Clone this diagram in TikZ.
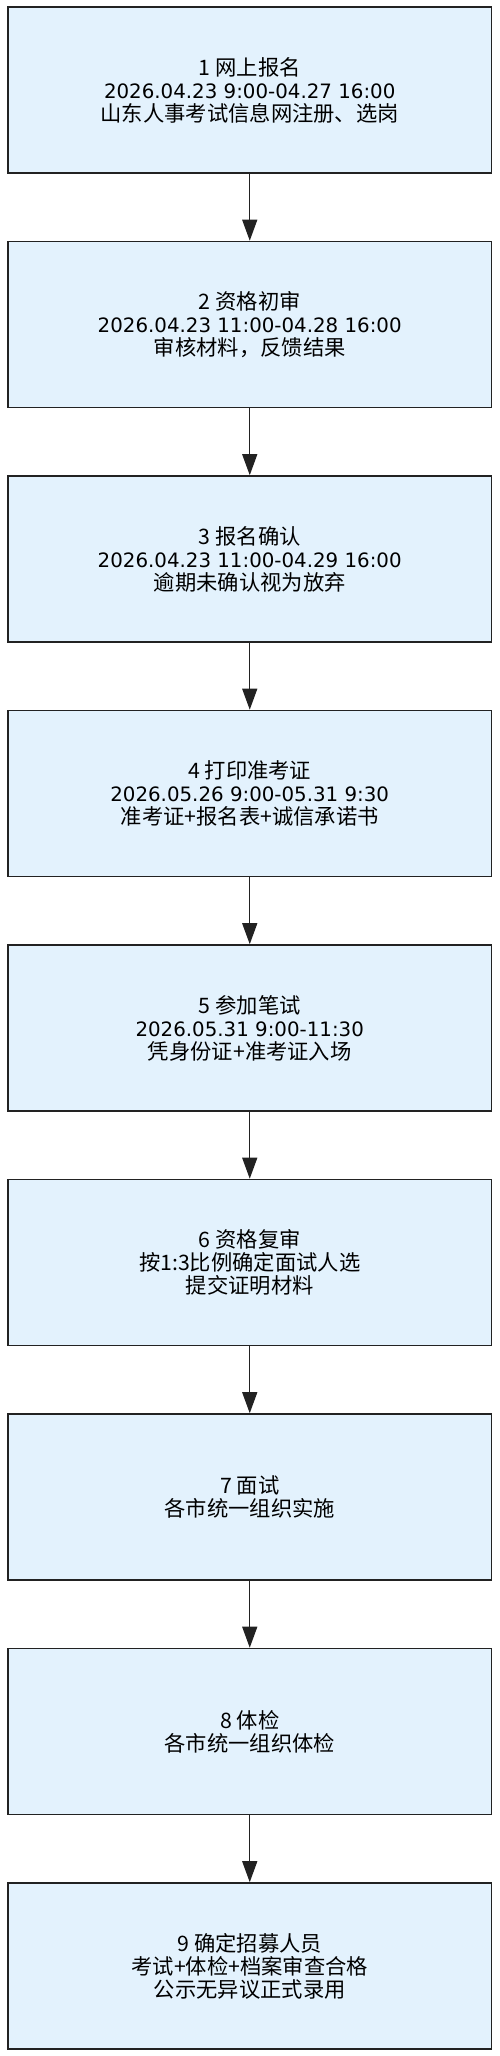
\documentclass[tikz,border=0pt]{standalone}
\usepackage{fontspec}
\setmainfont{Noto Sans CJK SC}
\newfontfamily\datefont[Scale=0.93]{DejaVu Sans}
\usetikzlibrary{arrows.meta}

\definecolor{stepfill}{HTML}{E3F2FD}
\definecolor{stepline}{HTML}{222222}

\newcommand{\when}[1]{{\datefont #1}}

\begin{document}
\begin{tikzpicture}[x=1pt, y=-1pt,
	stepbox/.style={draw=stepline, fill=stepfill, line width=1.6pt, minimum width=483.5pt, minimum height=166pt, inner sep=0pt, align=center, font=\fontsize{21.3pt}{23pt}\selectfont},
	flow/.style={draw=stepline, line width=1.3pt, -{Triangle[length=21pt, width=15pt]}}]
	\useasboundingbox (0,0) rectangle (499,2056);

	\node[stepbox] (s1) at (249.75,90) {1 网上报名\\ \when{2026.04.23 9:00-04.27 16:00}\\ 山东人事考试信息网注册、选岗};

	\node[stepbox] (s2) at (249.75,324.5) {2 资格初审\\ \when{2026.04.23 11:00-04.28 16:00}\\ 审核材料，反馈结果};

	\node[stepbox] (s3) at (249.75,559) {3 报名确认\\ \when{2026.04.23 11:00-04.29 16:00}\\ 逾期未确认视为放弃};

	\node[stepbox] (s4) at (249.75,793.5) {4 打印准考证\\ \when{2026.05.26 9:00-05.31 9:30}\\ 准考证+报名表+诚信承诺书};

	\node[stepbox] (s5) at (249.75,1028) {5 参加笔试\\ \when{2026.05.31 9:00-11:30}\\ 凭身份证+准考证入场};

	\node[stepbox] (s6) at (249.75,1262.5) {6 资格复审\\ 按1:3比例确定面试人选\\ 提交证明材料};

	\node[stepbox] (s7) at (249.75,1497) {7 面试\\ 各市统一组织实施};

	\node[stepbox] (s8) at (249.75,1731.5) {8 体检\\ 各市统一组织体检};

	\node[stepbox] (s9) at (249.75,1966) {9 确定招募人员\\ 考试+体检+档案审查合格\\ 公示无异议正式录用};




	\draw[flow] (s1) -- (s2);
	\draw[flow] (s2) -- (s3);
	\draw[flow] (s3) -- (s4);
	\draw[flow] (s4) -- (s5);
	\draw[flow] (s5) -- (s6);
	\draw[flow] (s6) -- (s7);
	\draw[flow] (s7) -- (s8);
	\draw[flow] (s8) -- (s9);
\end{tikzpicture}
\end{document}
